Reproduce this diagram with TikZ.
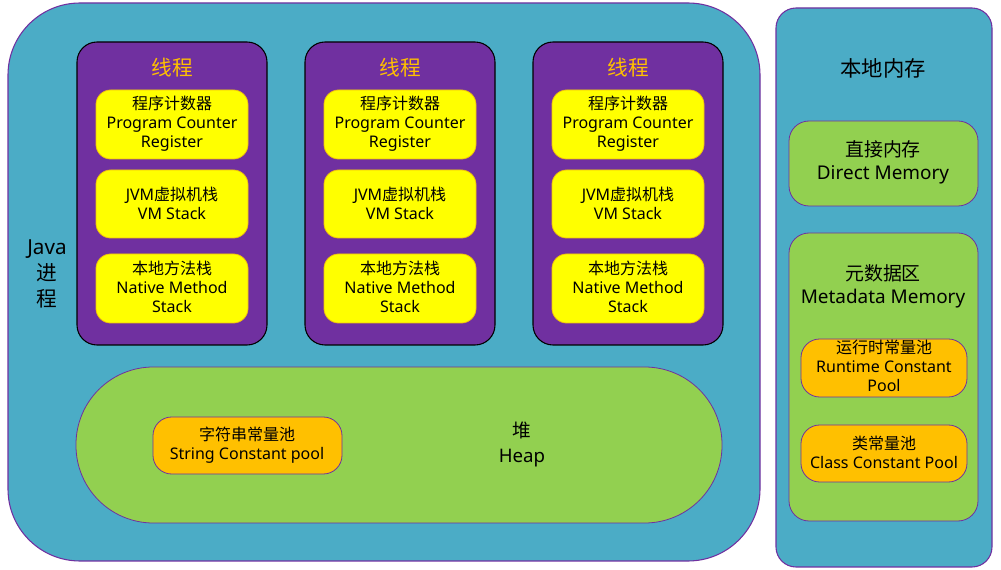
\documentclass[tikz,border=0pt]{standalone}
\usepackage{fontspec}
\setmainfont{Noto Sans}
\newfontfamily\cjkf{Noto Sans CJK SC}
\definecolor{jblue}{HTML}{4BACC6}
\definecolor{jpurple}{HTML}{7030A0}
\definecolor{jyellow}{HTML}{FFFF00}
\definecolor{jyborder}{HTML}{F2C20C}
\definecolor{jgreen}{HTML}{92D050}
\definecolor{jorange}{HTML}{FFC000}
\tikzset{
  outerbox/.style={fill=jblue,draw=jpurple,line width=0.8pt},
  threadbox/.style={fill=jpurple,draw=black,line width=0.8pt,rounded corners=15pt},
  ybox/.style={fill=jyellow,draw=jyborder,line width=0.6pt,rounded corners=11pt},
  gbox/.style={fill=jgreen,draw=jpurple,line width=0.6pt},
  obox/.style={fill=jorange,draw=jpurple,line width=0.6pt,rounded corners=14pt},
  ytext/.style={align=center,inner sep=0pt,font=\fontsize{12}{14.25}\selectfont},
  title/.style={align=center,inner sep=0pt,font=\fontsize{15.5}{19.5}\selectfont},
  gtext/.style={align=center,inner sep=0pt,font=\fontsize{14.2}{17.25}\selectfont},
}
\begin{document}
\begin{tikzpicture}[x=0.75pt,y=-0.75pt]
\useasboundingbox[fill=white] (0,0) rectangle (1001,570);
% Java process
\draw[outerbox,rounded corners=54pt] (8,3) rectangle (760,561);
% Native memory
\draw[outerbox,rounded corners=15pt] (776,8) rectangle (992,567);
% threads
\foreach \i/\x in {1/77,2/305,3/533}{
  \draw[threadbox] (\x,42) rectangle ({\x+190},345);
  \node[title,text=jorange] (t\i) at ({\x+95},68) {\cjkf 线程};
  \draw[ybox] ({\x+19},90) rectangle ({\x+171},159);
  \node[ytext] (pc\i) at ({\x+95},124) {{\cjkf 程序计数器}\\Program Counter\\Register};
  \draw[ybox] ({\x+19},170) rectangle ({\x+171},238);
  \node[ytext] (vm\i) at ({\x+95},203) {JVM{\cjkf 虚拟机栈}\\VM Stack};
  \draw[ybox] ({\x+19},254) rectangle ({\x+171},323);
  \node[ytext] (nm\i) at ({\x+95},287) {{\cjkf 本地方法栈}\\Native Method\\Stack};
}
% Java label
\node[title] (java) at (47,274) {Java\\{\cjkf 进}\\{\cjkf 程}};
% heap
\draw[gbox,rounded corners=58pt] (76,367) rectangle (722,523);
\node[gtext,font=\fontsize{14}{18.75}\selectfont] (heap) at (522,444) {{\cjkf 堆}\\Heap};
\draw[obox] (153,417) rectangle (342,474);
\node[ytext] (scp) at (247,445) {{\cjkf 字符串常量池}\\String Constant pool};
% native memory contents
\node[title,font=\fontsize{16}{19.5}\selectfont] (native) at (883,68) {\cjkf 本地内存};
\draw[gbox,rounded corners=15pt] (789,121) rectangle (978,206);
\node[gtext] (direct) at (883,162) {{\cjkf 直接内存}\\Direct Memory};
\draw[gbox,rounded corners=15pt] (789,233) rectangle (978,521);
\node[gtext] (meta) at (883,286) {{\cjkf 元数据区}\\Metadata Memory};
\draw[obox] (801,339) rectangle (967,397);
\node[ytext] (rcp) at (884,366) {{\cjkf 运行时常量池}\\Runtime Constant\\Pool};
\draw[obox] (801,425) rectangle (967,482);
\node[ytext] (ccp) at (884,452) {{\cjkf 类常量池}\\Class Constant Pool};
\end{tikzpicture}
\end{document}
